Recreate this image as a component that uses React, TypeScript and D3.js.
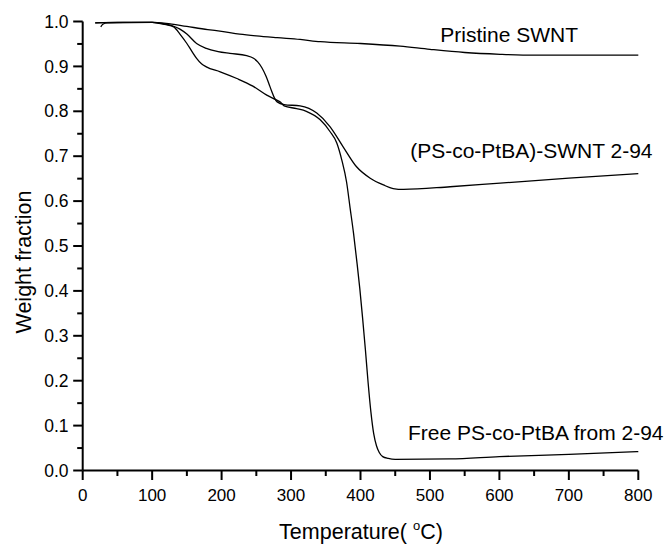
import React from "react";
import * as d3 from "d3";

const xTickLabels = [0, 100, 200, 300, 400, 500, 600, 700, 800];
const yTickLabels = [0.0, 0.1, 0.2, 0.3, 0.4, 0.5, 0.6, 0.7, 0.8, 0.9, 1.0];

const pristineT = [18, 50, 100, 120, 150, 180, 200, 226, 250, 280, 313, 342, 400, 457, 500, 550, 601, 650, 700, 800];
const pristineW = [0.997, 0.998, 0.998, 0.996, 0.989, 0.982, 0.978, 0.972, 0.968, 0.964, 0.960, 0.955, 0.951, 0.945, 0.938, 0.931, 0.927, 0.925, 0.925, 0.925];

const swntT = [18, 60, 100, 116, 130, 140, 150, 164, 178, 195, 212, 236, 246, 252, 258, 264, 268, 272, 276, 280, 290, 313, 337, 356, 375, 394, 414, 433, 447, 462, 529, 601, 700, 800];
const swntW = [0.997, 0.998, 0.998, 0.995, 0.990, 0.983, 0.972, 0.951, 0.940, 0.933, 0.929, 0.924, 0.918, 0.910, 0.897, 0.878, 0.862, 0.845, 0.830, 0.821, 0.815, 0.812, 0.796, 0.766, 0.721, 0.677, 0.651, 0.636, 0.628, 0.626, 0.632, 0.640, 0.651, 0.661];

const freeT = [26, 29, 35, 100, 110, 120, 131, 140, 150, 157, 164, 171, 178, 198, 222, 245, 265, 278, 285, 290, 308, 322, 342, 356, 366, 373, 380, 385, 390, 395, 399, 403, 407, 411, 415, 419, 423, 427, 432, 440, 450, 529, 600, 700, 800];
const freeW = [0.988, 0.994, 0.997, 0.998, 0.996, 0.993, 0.988, 0.972, 0.951, 0.934, 0.918, 0.906, 0.899, 0.888, 0.873, 0.856, 0.836, 0.826, 0.820, 0.812, 0.806, 0.800, 0.781, 0.755, 0.729, 0.692, 0.642, 0.585, 0.528, 0.462, 0.405, 0.340, 0.270, 0.195, 0.130, 0.082, 0.055, 0.040, 0.031, 0.027, 0.025, 0.026, 0.031, 0.036, 0.042];

const seriesLabels = ["Pristine SWNT", "(PS-co-PtBA)-SWNT 2-94", "Free PS-co-PtBA from 2-94"];

const W = 667;
const H = 544;
const FONT = "'Liberation Sans', Arial, Helvetica, sans-serif";

export default function App() {
  const x = d3.scaleLinear().domain([0, 800]).range([82.7, 638.3]);
  const y = d3.scaleLinear().domain([0, 1]).range([470.5, 21.5]);

  const line = d3
    .line<[number, number]>()
    .x((d) => x(d[0]))
    .y((d) => y(d[1]))
    .curve(d3.curveMonotoneX);

  const zip = (a: number[], b: number[]) => a.map((t, i) => [t, b[i]] as [number, number]);
  const series = [zip(pristineT, pristineW), zip(swntT, swntW), zip(freeT, freeW)];

  const xMinor = d3.range(50, 800, 100);
  const yMinor = d3.range(0.05, 1.0, 0.1);

  return (
    <svg
      width={W}
      height={H}
      style={{ position: "absolute", left: 0, top: 0, background: "#fff" }}
      fontFamily={FONT}
    >
      <rect x={0} y={0} width={W} height={H} fill="#fff" />
      {series.map((s, i) => (
        <path key={i} d={line(s) || ""} fill="none" stroke="#000" strokeWidth={1.3} />
      ))}

      <line x1={x(0)} x2={x(800)} y1={y(0)} y2={y(0)} stroke="#000" strokeWidth={2} />
      <line x1={x(0)} x2={x(0)} y1={y(0)} y2={y(1)} stroke="#000" strokeWidth={2} />

      {xTickLabels.map((t) => (
        <g key={"xt" + t}>
          <line x1={x(t)} x2={x(t)} y1={y(0)} y2={y(0) + 9.5} stroke="#000" strokeWidth={2} />
          <text x={x(t)} y={500.5} textAnchor="middle" fontSize={17} fill="#000">
            {t}
          </text>
        </g>
      ))}
      {xMinor.map((t) => (
        <line key={"xm" + t} x1={x(t)} x2={x(t)} y1={y(0)} y2={y(0) + 5.5} stroke="#000" strokeWidth={2} />
      ))}

      {yTickLabels.map((v) => (
        <g key={"yt" + v}>
          <line x1={x(0) - 9.5} x2={x(0)} y1={y(v)} y2={y(v)} stroke="#000" strokeWidth={2} />
          <text x={68.5} y={y(v)} dy="0.35em" textAnchor="end" fontSize={17.5} fill="#000">
            {v.toFixed(1)}
          </text>
        </g>
      ))}
      {yMinor.map((v) => (
        <line key={"ym" + v} x1={x(0) - 5.5} x2={x(0)} y1={y(v)} y2={y(v)} stroke="#000" strokeWidth={2} />
      ))}

      <text x={361} y={539} textAnchor="middle" fontSize={21.5} fill="#000">
        {"Temperature( "}
        <tspan fontSize={13} dy={-9}>o</tspan>
        <tspan dy={9}>C)</tspan>
      </text>
      <text
        transform={`translate(31, ${262}) rotate(-90)`}
        textAnchor="middle"
        fontSize={21.5}
        fill="#000"
      >
        Weight fraction
      </text>

      <text x={578} y={41.5} textAnchor="end" fontSize={21} fill="#000">
        {seriesLabels[0]}
      </text>
      <text x={652.5} y={157.5} textAnchor="end" fontSize={21} fill="#000">
        {seriesLabels[1]}
      </text>
      <text x={663.5} y={440} textAnchor="end" fontSize={21} fill="#000">
        {seriesLabels[2]}
      </text>
    </svg>
  );
}
